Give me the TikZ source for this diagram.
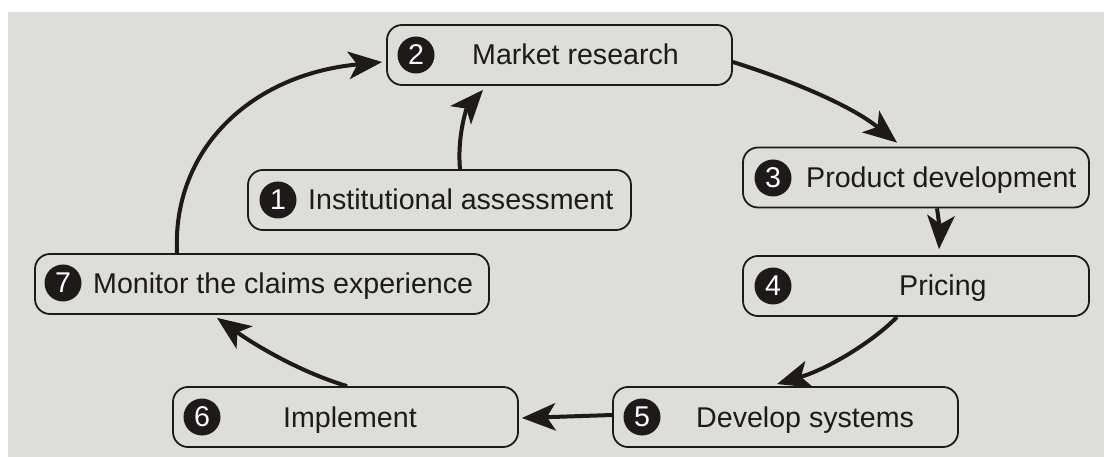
\documentclass[tikz,border=0pt]{standalone}
\usepackage{fontspec}
\setmainfont{Liberation Sans}
\usetikzlibrary{arrows.meta}
\definecolor{panel}{HTML}{DDDDDB}
\definecolor{ink}{HTML}{1E1A1A}
\begin{document}
\begin{tikzpicture}[x=1pt,y=-1pt,
  stage/.style={draw=ink, line width=1.8pt, rounded corners=15pt, fill=panel,
                inner sep=0pt, minimum height=60pt},
  badge/.style={circle, fill=ink, text=white, inner sep=0pt, minimum size=37pt,
                font=\fontsize{28.6}{32}\selectfont},
  steptext/.style={anchor=base west, inner sep=0pt, text=ink,
                font=\fontsize{28.6}{32}\selectfont},
  flow/.style={draw=ink, line width=4pt,
                -{Stealth[length=34pt,width=28pt,inset=9pt,line width=0pt]}}
]
% canvas
\useasboundingbox (0,0) rectangle (1104,457);
\fill[panel] (8,12) rectangle (1104,457);

% stage boxes
\node[stage, minimum width=383pt] (n1) at (439.5,200) {};
\node[stage, minimum width=345pt] (n2) at (559.5,55) {};
\node[stage, minimum width=346pt] (n3) at (916,177.5) {};
\node[stage, minimum width=346pt] (n4) at (916,286) {};
\node[stage, minimum width=345pt] (n5) at (785.5,417) {};
\node[stage, minimum width=345pt] (n6) at (345.5,417) {};
\node[stage, minimum width=454pt] (n7) at (262,284) {};

% numbered badges
\node[badge] (b1) at (278,200) {1};
\node[badge] (b2) at (416,55) {2};
\node[badge] (b3) at (773,178) {3};
\node[badge] (b4) at (773,286) {4};
\node[badge] (b5) at (642,417) {5};
\node[badge] (b6) at (202,417) {6};
\node[badge] (b7) at (63,283) {7};

% stage names
\node[steptext] (t1) at (308,210) {Institutional assessment};
\node[steptext] (t2) at (472,65) {Market research};
\node[steptext] (t3) at (806,188) {Product development};
\node[steptext] (t4) at (899,296) {Pricing};
\node[steptext] (t5) at (696,427) {Develop systems};
\node[steptext] (t6) at (283,427) {Implement};
\node[steptext] (t7) at (93,294) {Monitor the claims experience};

% flow between stages
\draw[flow] ([xshift=20.5pt]n1.north) .. controls (457,135) and (467,108) .. ([xshift=-76.5pt,yshift=-4pt]n2.south);
\draw[flow] ([xshift=-85pt]n7.north) .. controls (172,150) and (250,75) .. ([xshift=-4pt,yshift=-7pt]n2.west);
\draw[flow] ([yshift=-7pt]n2.east) .. controls (790,80) and (850,105) .. ([xshift=-19pt,yshift=4pt]n3.north);
\draw[flow] ([xshift=21pt]n3.south) .. controls (939,222) and (940,232) .. ([xshift=23pt,yshift=6pt]n4.north);
\draw[flow] ([xshift=-19pt]n4.south) .. controls (875,340) and (830,368) .. ([xshift=-8.5pt,yshift=2pt]n5.north);
\draw[flow] ([yshift=2pt]n5.west) -- ([xshift=3pt,yshift=-1pt]n6.east);
\draw[flow] ([xshift=1.5pt]n6.north) .. controls (300,372) and (255,345) .. ([xshift=-45pt,yshift=-3pt]n7.south);
\end{tikzpicture}
\end{document}
